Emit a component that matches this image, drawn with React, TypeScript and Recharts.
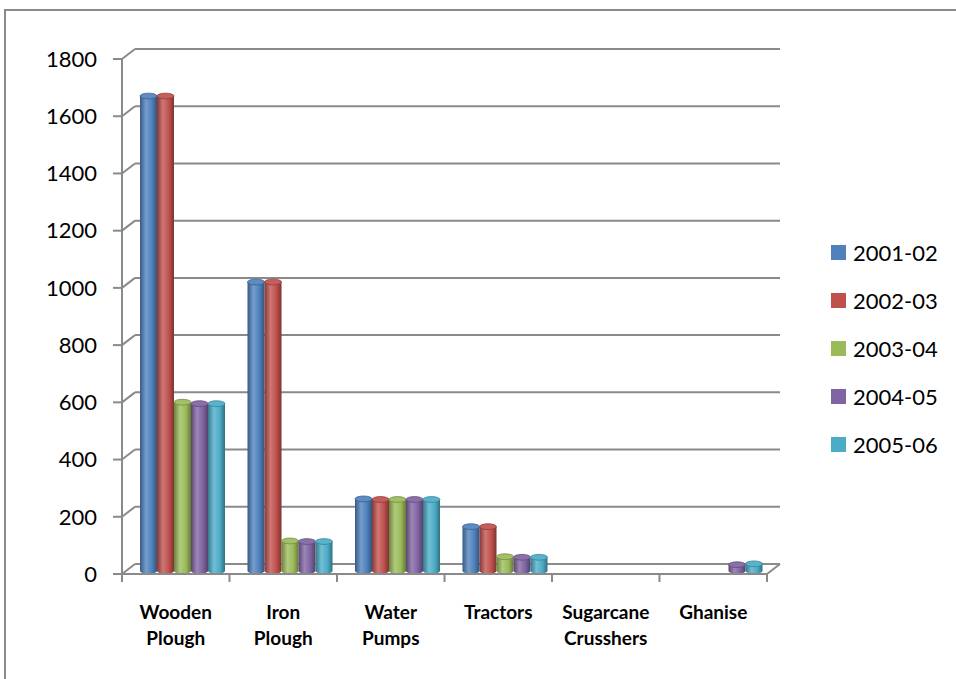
import { BarChart, Bar, XAxis, YAxis, CartesianGrid, Legend } from "recharts";

const CATEGORIES = [
  ["Wooden", "Plough"],
  ["Iron", "Plough"],
  ["Water", "Pumps"],
  ["Tractors"],
  ["Sugarcane", "Crusshers"],
  ["Ghanise"],
];
const SERIES_NAMES = ["2001-02", "2002-03", "2003-04", "2004-05", "2005-06"];
const V_2001_02 = [1660, 1010, 252, 155, 0, 0];
const V_2002_03 = [1660, 1010, 250, 155, 0, 0];
const V_2003_04 = [590, 105, 250, 50, 0, 0];
const V_2004_05 = [585, 103, 250, 48, 0, 22];
const V_2005_06 = [585, 103, 250, 48, 0, 25];
const Y_TICKS = [0, 200, 400, 600, 800, 1000, 1200, 1400, 1600, 1800];

const COLORS = ["#4f81bd", "#c0504d", "#9bbb59", "#8064a2", "#4bacc6"];
const GRID = "#8a8a8a";
const FONT = "Lato, 'Noto Sans', sans-serif";

// 3D look: back wall offset and bar depth offset
const DX = 13;
const DY = -10;

const SERIES_VALUES = [V_2001_02, V_2002_03, V_2003_04, V_2004_05, V_2005_06];
const data = CATEGORIES.map((lines, i) => {
  const row: Record<string, any> = { name: lines.join(" "), lines };
  SERIES_NAMES.forEach((s, k) => (row[s] = SERIES_VALUES[k][i]));
  return row;
});

function mix(hex: string, target: number, t: number) {
  const n = parseInt(hex.slice(1), 16);
  const c = [(n >> 16) & 255, (n >> 8) & 255, n & 255].map((v) => Math.round(v + (target - v) * t));
  return `rgb(${c[0]},${c[1]},${c[2]})`;
}

function makeCylinder(k: number) {
  return (props: any) => {
    const { x, y, width, height } = props;
    if (!height || height <= 0) return <g />;
    const X = x + 6;
    const Y = y - 3;
    const rx = width / 2;
    const ry = Math.max(2.5, width * 0.17);
    const cx = X + rx;
    const body = `M${X},${Y} L${X},${Y + height} A${rx},${ry} 0 0 0 ${X + width},${Y + height} L${X + width},${Y} Z`;
    return (
      <g>
        <path d={body} fill={`url(#cyl-${k})`} />
        <ellipse cx={cx} cy={Y} rx={rx} ry={ry} fill={mix(COLORS[k], 255, 0.08)} stroke={mix(COLORS[k], 0, 0.25)} strokeWidth={0.8} />
      </g>
    );
  };
}

function GridLine(props: any) {
  const { x1, y1, x2, y, height, index } = props;
  const isFloor = Math.abs(y1 - (y + height)) < 1;
  return (
    <g key={`g-${index}`}>
      <line x1={x1} y1={y1} x2={x1 + DX} y2={y1 + DY} stroke={GRID} strokeWidth={2} />
      <line x1={x1 + DX} y1={y1 + DY} x2={x2 + DX} y2={y1 + DY} stroke={GRID} strokeWidth={2} />
      {isFloor && <line x1={x2} y1={y1} x2={x2 + DX} y2={y1 + DY} stroke={GRID} strokeWidth={2} />}
    </g>
  );
}

function CategoryTick(props: any) {
  const { x, y, payload, index, visibleTicksCount } = props;
  const half = payload.offset || 53.6;
  const lines: string[] = data[payload.index ?? index]?.lines ?? [String(payload.value)];
  return (
    <g>
      <line x1={x - half} y1={y} x2={x - half} y2={y + 8} stroke={GRID} strokeWidth={2} />
      {index === visibleTicksCount - 1 && (
        <line x1={x + half} y1={y} x2={x + half} y2={y + 8} stroke={GRID} strokeWidth={2} />
      )}
      <text x={x} y={y + 45} textAnchor="middle" fontFamily={FONT} fontWeight={700} fontSize={19} fill="#000">
        {lines.map((l, i) => (
          <tspan key={i} x={x} dy={i === 0 ? 0 : 26}>{l}</tspan>
        ))}
      </text>
    </g>
  );
}

function LegendContent() {
  return (
    <div style={{ fontFamily: FONT, fontSize: 22, color: "#000" }}>
      {SERIES_NAMES.map((s, k) => (
        <div key={s} style={{ height: 48, display: "flex", alignItems: "center" }}>
          <div style={{ width: 15, height: 15, background: COLORS[k], marginRight: 7 }} />
          <span>{s}</span>
        </div>
      ))}
    </div>
  );
}

export default function App() {
  return (
    <div style={{ position: "absolute", left: 0, top: 0, width: 956, height: 679, overflow: "hidden", background: "#fff" }}>
      <div style={{ position: "absolute", left: 4, top: 9, width: 1000, height: 800, borderLeft: `2px solid ${GRID}`, borderTop: `2px solid ${GRID}` }} />
      <div style={{ position: "absolute", left: 0, top: 0 }}>
        <BarChart width={956} height={679} data={data} margin={{ top: 59, right: 189, bottom: 0, left: 0 }} barCategoryGap={12} barGap={0}>
          <defs>
            {COLORS.map((c, k) => (
              <linearGradient key={k} id={`cyl-${k}`} x1="0" y1="0" x2="1" y2="0">
                <stop offset="0%" stopColor={mix(c, 0, 0.3)} />
                <stop offset="35%" stopColor={mix(c, 255, 0.22)} />
                <stop offset="70%" stopColor={c} />
                <stop offset="100%" stopColor={mix(c, 0, 0.35)} />
              </linearGradient>
            ))}
          </defs>
          <CartesianGrid vertical={false} horizontal={GridLine as any} />
          <XAxis dataKey="name" height={105} tickSize={0} tickMargin={0} interval={0} axisLine={{ stroke: GRID, strokeWidth: 2 }} tickLine={false} tick={CategoryTick} />
          <YAxis width={122} domain={[0, 1800]} ticks={Y_TICKS} interval={0} tickSize={9} tickMargin={16}
            axisLine={{ stroke: GRID, strokeWidth: 2 }} tickLine={{ stroke: GRID, strokeWidth: 2 }}
            tick={{ fill: "#000", fontSize: 22, fontFamily: FONT }} />
          <Legend layout="vertical" align="center" verticalAlign="middle" content={LegendContent}
            wrapperStyle={{ left: 831, top: 228, width: 125 }} />
          {SERIES_NAMES.map((s, k) => (
            <Bar key={s} dataKey={s} fill={COLORS[k]} shape={makeCylinder(k)} isAnimationActive={false} />
          ))}
        </BarChart>
      </div>
    </div>
  );
}
